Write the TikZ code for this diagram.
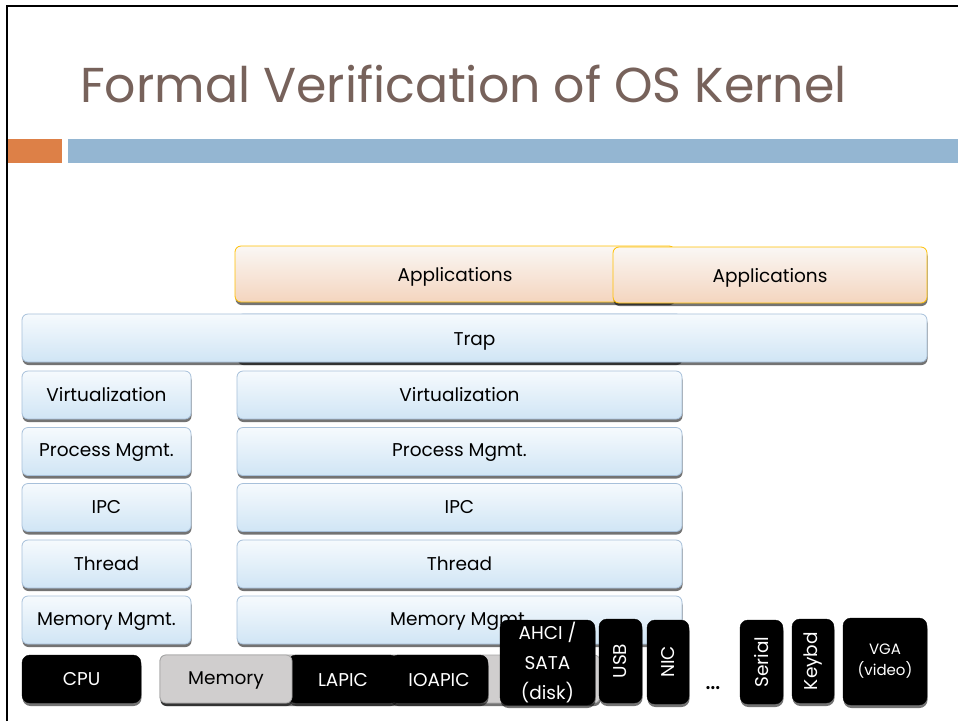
\documentclass[tikz,border=0pt]{standalone}
\usepackage{fontspec}
\setmainfont{Poppins}
\usetikzlibrary{shadows}
\definecolor{titlebrown}{HTML}{77625B}
\definecolor{accentorange}{HTML}{DD8047}
\definecolor{accentblue}{HTML}{94B6D2}
\definecolor{layertop}{HTML}{F6FAFD}
\definecolor{layerbot}{HTML}{D0E5F5}
\definecolor{layerline}{HTML}{A7C0DA}
\definecolor{apptop}{HTML}{FAF7F5}
\definecolor{appbot}{HTML}{F4D5BE}
\definecolor{appline}{HTML}{FFC000}
\definecolor{memgray}{HTML}{D0CECE}
\definecolor{memline}{HTML}{A6A6A6}
% lower a label without changing the size of its box
\newcommand{\lowered}[2]{\raisebox{-#1}[\height][\depth]{#2}}
\begin{document}
\begin{tikzpicture}[x=1pt,y=-1pt,
  shadowed/.style={drop shadow={shadow xshift=0.5pt,shadow yshift=-3pt,fill=black,opacity=0.55}},
  bodyfont/.style={font=\fontsize{18.5}{20}\selectfont},
  layer/.style={draw=layerline,line width=0.8pt,rounded corners=6pt,
    top color=layertop,bottom color=layerbot,shadowed,inner sep=0pt,
    minimum height=48pt,bodyfont},
  app/.style={layer,draw=appline,top color=apptop,bottom color=appbot,minimum height=56pt},
  hw/.style={fill=black,draw=black,rounded corners=8pt,text=white,shadowed,
    inner sep=0pt,align=center,bodyfont},
  mem/.style={fill=memgray,draw=memline,line width=0.8pt,rounded corners=6pt,shadowed,
    inner sep=0pt,bodyfont}
]
\useasboundingbox (0,0) rectangle (958,721);
\fill[white] (0,0) rectangle (958,721);

% slide frame, accent bars and title
\draw[line width=2pt] (7,721) -- (7,6) -- (958,6);
\fill[accentorange] (8,139) rectangle (62,163);
\fill[accentblue] (68,139) rectangle (958,163);
\node[anchor=base west,inner sep=0pt,text=titlebrown,font=\fontsize{49}{55}\selectfont]
  (title) at (80,102) {Formal Verification of OS Kernel};

% application layer
\node[app,minimum width=440pt] (app1) at (455,274) {\lowered{3pt}{Applications}};
\node[app,minimum width=314pt] (app2) at (770,275) {\lowered{3pt}{Applications}};

% trap layer
\node[layer,minimum width=445pt] (trapback) at (459.5,338) {};
\node[layer,minimum width=905pt] (trap) at (474.5,338) {\lowered{3pt}{Trap}};

% kernel layers, left column
\node[layer,minimum width=169pt] (lvirt) at (106.5,395) {Virtualization};
\node[layer,minimum width=169pt] (lproc) at (106.5,451.5) {\lowered{1.5pt}{Process Mgmt.}};
\node[layer,minimum width=169pt] (lipc)  at (106.5,507.5) {IPC};
\node[layer,minimum width=169pt] (lthr)  at (106.5,564) {Thread};
\node[layer,minimum width=169pt] (lmem)  at (106.5,620) {\lowered{1.5pt}{Memory Mgmt.}};

% kernel layers, middle column
\node[layer,minimum width=445pt] (mvirt) at (459.5,395) {Virtualization};
\node[layer,minimum width=445pt] (mproc) at (459.5,451.5) {\lowered{1.5pt}{Process Mgmt.}};
\node[layer,minimum width=445pt] (mipc)  at (459.5,507.5) {IPC};
\node[layer,minimum width=445pt] (mthr)  at (459.5,564) {Thread};
\node[layer,minimum width=445pt] (mmem)  at (459.5,620) {\lowered{1.5pt}{Memory Mgmt.}};

% hardware
\node[hw,minimum width=119pt,minimum height=48pt] (cpu) at (81.5,679) {CPU};
\node[mem,minimum width=440pt,minimum height=48pt] (memback) at (380,679) {};
\node[hw,minimum width=110pt,minimum height=48pt] (lapic) at (343,679) {\lowered{1.5pt}{LAPIC}};
\node[mem,minimum width=132pt,minimum height=48pt] (memory) at (226,679) {\lowered{1.5pt}{Memory}};
\node[hw,minimum width=98pt,minimum height=48pt] (ioapic) at (439,679) {\lowered{1.5pt}{IOAPIC}};
\node[hw,minimum width=95pt,minimum height=85pt,font=\fontsize{18.5}{30}\selectfont]
  (ahci) at (547.5,662.5) {AHCI /\\SATA\\(disk)};
\node[hw,rotate=90,minimum width=84pt,minimum height=43pt] (usb) at (620.5,661) {USB};
\node[hw,rotate=90,minimum width=84pt,minimum height=42pt] (nic) at (668,662) {NIC};
\node[inner sep=0pt,font=\fontsize{26}{28}\selectfont] (dots) at (713,688) {\dots};
\node[hw,rotate=90,minimum width=84pt,minimum height=43pt] (serial) at (761.5,662) {Serial};
\node[hw,rotate=90,minimum width=84pt,minimum height=42pt] (keybd) at (813,661) {Keybd};
\node[hw,minimum width=84pt,minimum height=87pt,font=\fontsize{15}{21}\selectfont]
  (vga) at (885,661.5) {VGA\\(video)};
\end{tikzpicture}
\end{document}
